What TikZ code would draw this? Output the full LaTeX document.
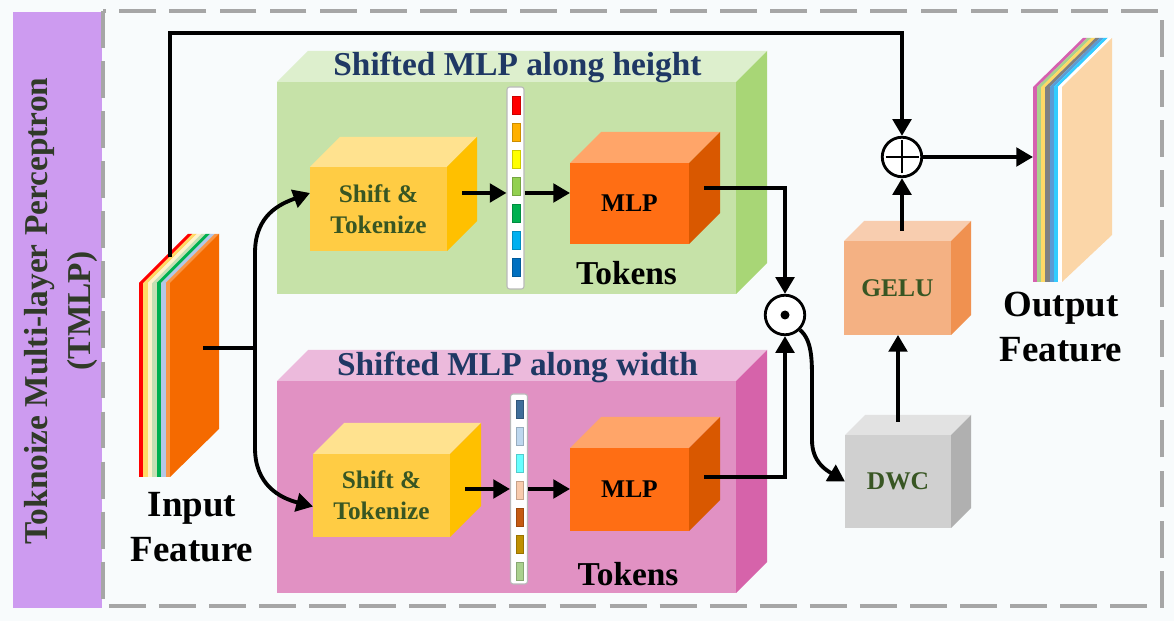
\documentclass[tikz,border=0pt]{standalone}
\usepackage{fontspec}
\setmainfont{Liberation Serif}
\usetikzlibrary{arrows.meta,calc}

\definecolor{bgcol}{RGB}{248,251,252}
\definecolor{tmlpcol}{RGB}{205,155,240}
\definecolor{lblcol}{RGB}{48,58,40}
\definecolor{navy}{RGB}{31,56,100}
\definecolor{olive}{RGB}{56,86,35}
\definecolor{grnfront}{RGB}{198,226,168}
\definecolor{grntop}{RGB}{221,239,205}
\definecolor{grnside}{RGB}{168,214,118}
\definecolor{pnkfront}{RGB}{225,145,195}
\definecolor{pnktop}{RGB}{236,186,220}
\definecolor{pnkside}{RGB}{214,99,170}
\definecolor{yelfront}{RGB}{255,204,68}
\definecolor{yeltop}{RGB}{255,226,143}
\definecolor{yelside}{RGB}{255,192,0}
\definecolor{mlpfront}{RGB}{255,110,20}
\definecolor{mlptop}{RGB}{255,165,105}
\definecolor{mlpside}{RGB}{217,88,0}
\definecolor{gelufront}{RGB}{244,177,131}
\definecolor{gelutop}{RGB}{248,205,175}
\definecolor{geluside}{RGB}{240,145,80}
\definecolor{dwcfront}{RGB}{208,208,208}
\definecolor{dwctop}{RGB}{226,226,226}
\definecolor{dwcside}{RGB}{176,176,176}
\definecolor{tkred}{RGB}{255,0,0}
\definecolor{tkorange}{RGB}{255,176,0}
\definecolor{tkyellow}{RGB}{255,255,0}
\definecolor{tklime}{RGB}{146,208,80}
\definecolor{tkgreen}{RGB}{0,176,80}
\definecolor{tksky}{RGB}{0,176,240}
\definecolor{tkblue}{RGB}{0,112,192}
\definecolor{tksteel}{RGB}{63,110,154}
\definecolor{tkpale}{RGB}{189,215,238}
\definecolor{tkcyan}{RGB}{102,255,255}
\definecolor{tkpeach}{RGB}{248,203,173}
\definecolor{tkrust}{RGB}{197,90,17}
\definecolor{tkgold}{RGB}{191,144,0}
\definecolor{tksage}{RGB}{169,209,142}
\definecolor{inred}{RGB}{255,0,0}
\definecolor{inyel}{RGB}{255,217,102}
\definecolor{incream}{RGB}{255,242,204}
\definecolor{inlgrn}{RGB}{197,224,180}
\definecolor{ingrn}{RGB}{0,176,80}
\definecolor{inblue}{RGB}{180,199,231}
\definecolor{inlora}{RGB}{248,150,70}
\definecolor{inorange}{RGB}{245,106,0}
\definecolor{outpink}{RGB}{214,96,176}
\definecolor{outsage}{RGB}{169,209,142}
\definecolor{outyel}{RGB}{255,217,102}
\definecolor{outgray}{RGB}{128,128,128}
\definecolor{outblue}{RGB}{91,155,213}
\definecolor{outcyan}{RGB}{51,204,255}
\definecolor{outpeach}{RGB}{251,214,168}

\newcommand\fsz[2]{\fontsize{#1}{#2}\selectfont\bfseries}
\newcommand\cubefaces[4]{%
	\fill[#3] (#1.north west) -- ++(#2,-#2) -- ($(#1.north east)+(#2,-#2)$) -- (#1.north east) -- cycle;
	\fill[#4] (#1.north east) -- ++(#2,-#2) -- ($(#1.south east)+(#2,-#2)$) -- (#1.south east) -- cycle;}

\begin{document}
\begin{tikzpicture}[x=0.02cm, y=-0.02cm,
	box/.style 2 args={minimum width=#1*0.02cm, minimum height=#2*0.02cm, inner sep=0, outer sep=0},
	arr/.style={line width=2.2pt, -{Triangle[length=9.5pt,width=10.5pt]}},
	op/.style={circle, draw, line width=1.6pt, fill=white, minimum size=0.79cm, inner sep=0},
	oplus/.style={op, path picture={
		\draw[black, line width=1.6pt] ([xshift=-0.33cm]path picture bounding box.center) -- ([xshift=0.33cm]path picture bounding box.center);
		\draw[black, line width=1.6pt] ([yshift=-0.33cm]path picture bounding box.center) -- ([yshift=0.33cm]path picture bounding box.center);}},
	odot/.style={op, path picture={\fill[black] (path picture bounding box.center) circle[radius=0.09cm];}},
	tokbar/.style={rectangle, rounded corners=1.5pt, draw=gray!55, line width=0.6pt, fill=white, minimum width=17*0.02cm, inner sep=0},
	stepbox/.style={text=olive, font=\fsz{14.4}{17.5}, align=center},
	title/.style={anchor=base, text=navy, font=\fsz{19}{23}},
	feat/.style={align=center, font=\fsz{21}{26}}]
	\fill[bgcol] (0,0) rectangle (1174,621);
	\useasboundingbox (0,0) rectangle (1174,621);
	\fill[tmlpcol] (13,12) rectangle (102,608);
	\draw[gray!70, line width=2.3pt, dash pattern=on 21pt off 7.5pt] (103,11) rectangle (1162,606);
	\node[rotate=90, align=center, text=lblcol, font=\fsz{19}{24}] (tmlp) at (61,311) {Toknoize Multi-layer Perceptron\\(TMLP)};

	\node[box={459}{212}, fill=grnfront] (hbox) at (506.5,188) {};
	\cubefaces{hbox}{31}{grntop}{grnside}
	\node[title] (htitle) at (517.5,76) {Shifted MLP along height};
	\node[box={459}{212}, fill=pnkfront] (wbox) at (506.5,487) {};
	\cubefaces{wbox}{31}{pnktop}{pnkside}
	\node[title] (wtitle) at (517.5,376) {Shifted MLP along width};

	\node[box={137}{84}, fill=yelfront, stepbox] (sth) at (378.5,209) {Shift \&\\Tokenize};
	\cubefaces{sth}{30}{yeltop}{yelside}
	\node[box={137}{83}, fill=yelfront, stepbox] (stw) at (381.5,495.5) {Shift \&\\Tokenize};
	\cubefaces{stw}{31}{yeltop}{yelside}
	\node[box={119}{81}, fill=mlpfront, font=\fsz{14.5}{17}] (mlph) at (629.5,203.5) {MLP};
	\cubefaces{mlph}{31}{mlptop}{mlpside}
	\node[box={119}{83}, fill=mlpfront, font=\fsz{14.5}{17}] (mlpw) at (629.5,489.5) {MLP};
	\cubefaces{mlpw}{31}{mlptop}{mlpside}

	\node[tokbar, minimum height=202*0.02cm] (tokh) at (515.5,188) {};
	\foreach \c [count=\i from 0] in {tkred,tkorange,tkyellow,tklime,tkgreen,tksky,tkblue}
		\fill[\c, draw=\c!80!black, line width=0.3pt] ($(tokh.north)+(-3.5,10+\i*27)$) rectangle ++(8,18);
	\node[tokbar, minimum height=190*0.02cm] (tokw) at (519,489) {};
	\foreach \c [count=\i from 0] in {tksteel,tkpale,tkcyan,tkpeach,tkrust,tkgold,tksage}
		\fill[\c, draw=\c!80!black, line width=0.3pt] ($(tokw.north)+(-3,7+\i*27)$) rectangle ++(7,18);
	\node[anchor=base, font=\fsz{19}{23}] (tkhlbl) at (626.5,285) {Tokens};
	\node[anchor=base, font=\fsz{19}{23}] (tkwlbl) at (628,585) {Tokens};

	\node[box={107}{94}, fill=gelufront, stepbox, font=\fsz{14.5}{17}] (gelu) at (897.5,288) {GELU};
	\cubefaces{gelu}{20}{gelutop}{geluside}
	\node[box={106}{93}, fill=dwcfront, stepbox, font=\fsz{14.5}{17}] (dwc) at (898,481.5) {DWC};
	\cubefaces{dwc}{20}{dwctop}{dwcside}
	\node[oplus] (plus) at (902,157) {};
	\node[odot] (dot) at (785,315) {};

	\foreach \c [count=\i from 0] in {inred,inyel,incream,inlgrn,ingrn,inblue,inlora}{
		\fill[\c] ({139+\i*4.43},283) rectangle ++(4.43,194);
		\fill[\c] ({139+\i*4.43},283) -- ++(49,-49) -- ++(4.43,0) -- ++(-49,49) -- cycle;
	}
	\fill[inorange] (170,283) -- ++(49,-49) -- ++(0,195) -- (170,477) -- cycle;
	\foreach \c [count=\i from 0] in {outpink,outsage,outyel,outgray,outblue,outcyan,white}{
		\fill[\c] ({1033+\i*4.14},87) rectangle ++(4.14,195);
		\fill[\c] ({1033+\i*4.14},87) -- ++(50,-49) -- ++(4.14,0) -- ++(-50,49) -- cycle;
	}
	\fill[outpeach] (1062,87) -- ++(50,-49) -- ++(0,197) -- (1062,282) -- cycle;
	\node[feat] (inlbl) at (192,527) {Input\\Feature};
	\node[feat] (outlbl) at (1061,327) {Output\\Feature};

	\coordinate (inside) at (203,348);
	\coordinate (intop) at (170,257);
	\coordinate (split) at (255,348);
	\coordinate (outfront) at (1033,157);
	\coordinate (sthout) at ($(sth.east)+(15,-16)$);
	\coordinate (stwout) at ($(stw.east)+(15,-6.5)$);
	\coordinate (mlphout) at ($(mlph.east)+(15,-15.5)$);
	\coordinate (mlpwout) at ($(mlpw.east)+(15,-12.5)$);
	\coordinate (dwctop) at ($(dwc.north)+(0,-13)$);
	\coordinate (gelutop) at ($(gelu.north)+(0,-10)$);

	\draw[line width=2.2pt] (inside) -- (split);
	\draw[arr] (split) -- (255,253) .. controls (255,215) and (280,204) .. ($(sth.west)+(0,-16)$);
	\draw[arr] (split) -- (255,448) .. controls (255,485) and (280,498) .. ($(stw.west)+(0,11)$);
	\draw[arr] (sthout) -- (sthout -| tokh.west);
	\draw[arr] (sthout -| tokh.east) -- (sthout -| mlph.west);
	\draw[arr] (stwout) -- (stwout -| tokw.west);
	\draw[arr] (stwout -| tokw.east) -- (stwout -| mlpw.west);
	\draw[arr] (mlphout) -| (dot.north);
	\draw[arr] (mlpwout) -| (dot.south);
	\draw[arr] (dot.-45) .. controls (812,340) and (812,360) .. (812,380) -- (812,440) .. controls (812,462) and (826,470) .. (dwc.west);
	\draw[arr] (dwctop) -- (dwctop |- gelu.south);
	\draw[arr] (gelutop -| plus.south) -- (plus.south);
	\draw[arr] (intop) -- ++(0,-224) -| (plus.north);
	\draw[arr] (plus.east) -- (outfront);
\end{tikzpicture}
\end{document}
